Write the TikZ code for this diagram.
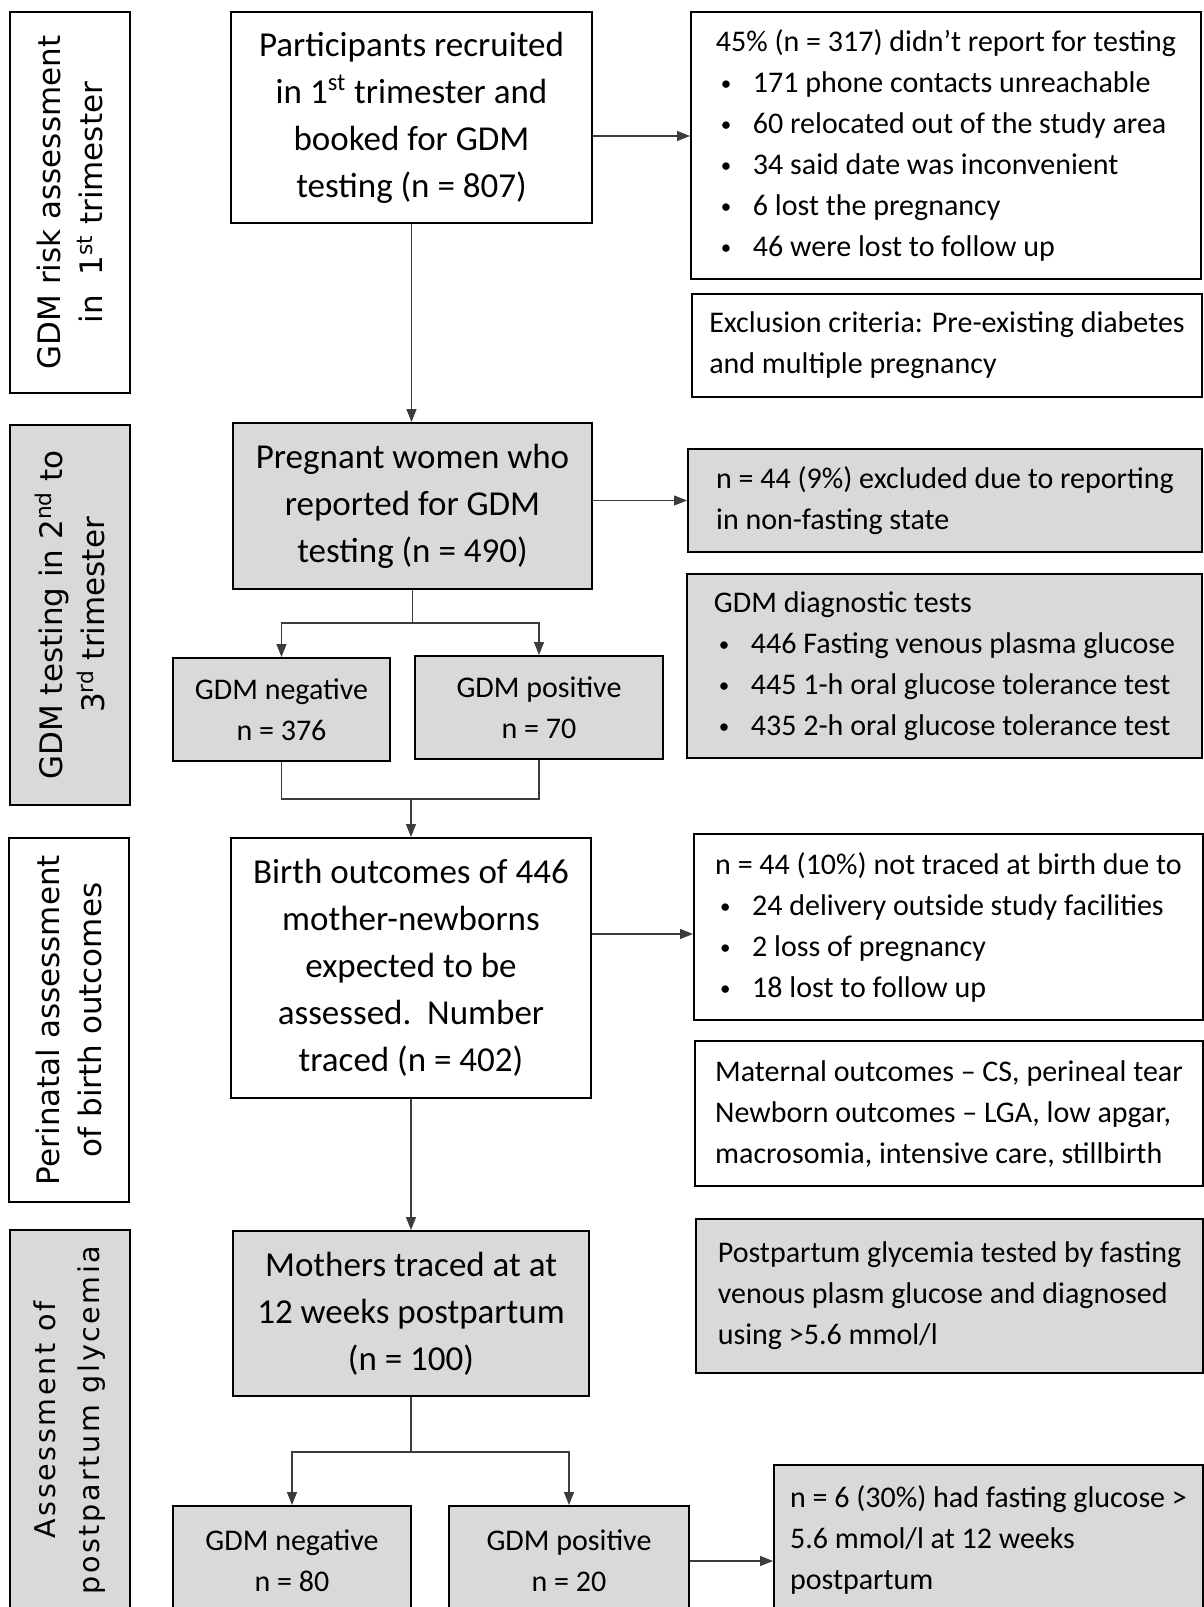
\documentclass[tikz,border=0pt]{standalone}
\usepackage{fontspec}
\setmainfont{Carlito}
\newfontfamily\sidefont{DejaVu Sans}
\newfontfamily\spacedfont[LetterSpace=9]{DejaVu Sans}
\usetikzlibrary{arrows.meta}
\definecolor{box_gray}{RGB}{217, 217, 217}
\definecolor{line_gray}{RGB}{60, 60, 60}
\newcommand{\bul}{\hspace*{2.5pt}\makebox[16pt][l]{\raisebox{1pt}{\fontsize{10.5}{10.5}\selectfont\textbullet}}}

\begin{document}
\begin{tikzpicture}[
    x=0.5pt, y=0.5pt,
    stage/.style={
        draw=black,
        line width=1pt,
        fill=#1,
        rotate=90,
        align=center,
        inner sep=0pt,
        minimum height=60pt,
        font=\sidefont\fontsize{15.5}{21}\selectfont
    },
    stage/.default=white,
    flowbox/.style={
        draw=black,
        line width=1pt,
        fill=#1,
        align=center,
        inner sep=0pt,
        font=\fontsize{17.5}{23.5}\selectfont
    },
    flowbox/.default=white,
    smallbox/.style={
        flowbox=#1,
        font=\fontsize{15}{20.5}\selectfont
    },
    notebox/.style={
        draw=black,
        line width=1pt,
        fill=#1,
        align=left,
        inner sep=0pt,
        font=\fontsize{15}{20.5}\selectfont
    },
    notebox/.default=white,
    arrow/.style={
        -{Triangle[length=6.5pt, width=5pt]},
        line width=0.6pt,
        draw=line_gray
    },
    link/.style={
        line width=0.6pt,
        draw=line_gray
    }
]

\useasboundingbox (0,0) rectangle (1204,-1607);
\clip (0,0) rectangle (1204,-1607);

% stages on the left
\node[stage, minimum width=190.5pt] (stage1) at (70,-202.5) {GDM risk assessment\\in\ \ 1\textsuperscript{st} trimester};
\node[stage=box_gray, minimum width=190pt] (stage2) at (70,-615) {GDM testing in 2\textsuperscript{nd} to\\3\textsuperscript{rd} trimester};
\node[stage, minimum width=182pt] (stage3) at (68.5,-1020) {Perinatal assessment\\of birth outcomes};
\node[stage=box_gray, minimum width=190pt, font=\spacedfont\fontsize{14.3}{22}\selectfont] (stage4) at (70,-1420) {Assessment of\\postpartum glycemia};

% main flow
\node[flowbox, minimum width=180.5pt, minimum height=105.5pt] (recruited) at (411.5,-117.5) {Participants recruited\\in 1\textsuperscript{st} trimester and\\booked for GDM\\testing (n = 807)};
\node[flowbox=box_gray, minimum width=179.5pt, minimum height=83pt] (reported) at (412.5,-506) {Pregnant women who\\reported for GDM\\testing (n = 490)};
\node[smallbox=box_gray, minimum width=108.5pt, minimum height=51.5pt] (negative1) at (281.5,-709.5) {GDM negative\\n = 376};
\node[smallbox=box_gray, minimum width=124pt, minimum height=51.5pt] (positive1) at (539,-707.5) {GDM positive\\n = 70};
\node[flowbox, minimum width=180pt, minimum height=130pt] (birth) at (411,-968) {Birth outcomes of 446\\mother-newborns\\expected to be\\assessed.\ \ Number\\traced (n = 402)};
\node[flowbox=box_gray, minimum width=178pt, minimum height=82.5pt] (postpartum) at (411,-1313.5) {Mothers traced at at\\12 weeks postpartum\\(n = 100)};
\node[smallbox=box_gray, minimum width=119pt, minimum height=55pt] (negative2) at (292,-1561) {GDM negative\\n = 80};
\node[smallbox=box_gray, minimum width=120pt, minimum height=55pt] (positive2) at (569,-1561) {GDM positive\\n = 20};

% notes on the right
\node[notebox, minimum width=255pt, minimum height=133.5pt] (noreport) at (946,-145.5) {45\% (n = 317) didn’t report for testing\\\bul 171 phone contacts unreachable\\\bul 60 relocated out of the study area\\\bul 34 said date was inconvenient\\\bul 6 lost the pregnancy\\\bul 46 were lost to follow up};
\node[notebox, minimum width=255pt, minimum height=51.5pt] (exclusion) at (947,-345.5) {Exclusion criteria: Pre-existing diabetes\\and multiple pregnancy};
\node[notebox=box_gray, minimum width=257pt, minimum height=51.5pt] (nonfasting) at (945,-500.5) {n = 44 (9\%) excluded due to reporting\\in non-fasting state};
\node[notebox=box_gray, minimum width=257.5pt, minimum height=92pt] (tests) at (944.5,-666) {GDM diagnostic tests\\\bul 446 Fasting venous plasma glucose\\\bul 445 1-h oral glucose tolerance test\\\bul 435 2-h oral glucose tolerance test};
\node[notebox, minimum width=254.5pt, minimum height=93pt] (nottraced) at (948.5,-927) {n = 44 (10\%) not traced at birth due to\\\bul 24 delivery outside study facilities\\\bul 2 loss of pregnancy\\\bul 18 lost to follow up};
\node[notebox, minimum width=254pt, minimum height=72.5pt] (outcomes) at (949,-1113.5) {Maternal outcomes – CS, perineal tear\\Newborn outcomes – LGA, low apgar,\\macrosomia, intensive care, stillbirth};
\node[notebox=box_gray, minimum width=253.5pt, minimum height=77pt] (glycemia) at (949.5,-1296) {Postpartum glycemia tested by fasting\\venous plasm glucose and diagnosed\\using >5.6 mmol/l};
\node[notebox=box_gray, minimum width=214.5pt, minimum height=75pt] (highglucose) at (988.5,-1540) {n = 6 (30\%) had fasting glucose >\\5.6 mmol/l at 12 weeks\\postpartum};

% connectors
\coordinate (fork1) at (412.5,-623);
\coordinate (merge1) at (411,-799);
\coordinate (fork2) at (411,-1452);

\draw[arrow] (recruited.south) -- (recruited.south |- reported.north);
\draw[arrow] (recruited.east |- 0,-136) -- (noreport.west |- 0,-136);
\draw[arrow] (reported.east |- nonfasting.west) -- (nonfasting.west);

\draw[link] (reported.south) -- (fork1);
\draw[arrow] (fork1) -| (negative1.north);
\draw[arrow] (fork1) -| (positive1.north);

\draw[link] (negative1.south) |- (merge1);
\draw[link] (positive1.south) |- (merge1);
\draw[arrow] (merge1) -- (birth.north);

\draw[arrow] (birth.east |- 0,-934) -- (nottraced.west |- 0,-934);
\draw[arrow] (birth.south) -- (postpartum.north);

\draw[link] (postpartum.south) -- (fork2);
\draw[arrow] (fork2) -| (negative2.north);
\draw[arrow] (fork2) -| (positive2.north);
\draw[arrow] (positive2.east) -- (positive2.east -| highglucose.west);

\end{tikzpicture}
\end{document}
